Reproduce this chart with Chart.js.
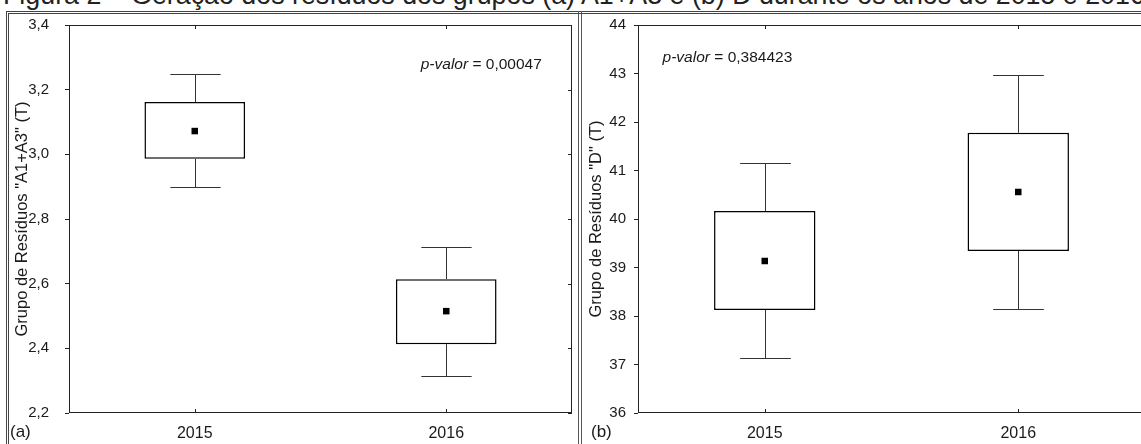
<!DOCTYPE html>
<html>
<head>
<meta charset="utf-8">
<script src="https://cdn.jsdelivr.net/npm/chart.js@4.4.1/dist/chart.umd.min.js"></script>
<style>
    html, body { margin: 0; padding: 0; background: #fff; width: 1141px; height: 444px; overflow: hidden; position: relative; font-family: "Liberation Sans", Arial, sans-serif; color: #1a1a1a; }
    #figTitle { position: absolute; left: 3px; top: -20px; font-size: 26.8px; line-height: 30px; white-space: nowrap; color: #222; }
    #frame { position: absolute; left: 6px; top: 11px; width: 1200px; height: 500px; border-top: 3px double #444; border-left: 3px double #444; }
    #sep { position: absolute; left: 578px; top: 11px; width: 0; height: 500px; border-left: 4px double #555; }
    .panel { position: absolute; top: 14px; width: 568px; height: 430px; }
    .tag { position: absolute; top: 422px; font-size: 17px; }
</style>
</head>
<body>
<div id="figTitle">Figura 2 – Geração dos resíduos dos grupos (a) A1+A3 e (b) D durante os anos de 2015 e 2016</div>
<div id="frame"></div>
<div id="sep"></div>
<div class="panel" style="left:9px"><canvas id="chartA" width="568" height="430"></canvas></div>
<div class="panel" style="left:582px"><canvas id="chartD" width="568" height="430"></canvas></div>
<div class="tag" style="left:10px">(a)</div>
<div class="tag" style="left:591px">(b)</div>

<script>
// Data
const years = [2015, 2016];

// (a) grupo A1+A3
const aMean = [3.072, 2.515];
const aBoxLow = [2.986, 2.413];
const aBoxHigh = [3.162, 2.614];
const aWhiskLow = [2.899, 2.314];
const aWhiskHigh = [3.248, 2.713];
const aYTicks = [2.2, 2.4, 2.6, 2.8, 3.0, 3.2, 3.4];
const aPValue = '0,00047';

// (b) grupo D
const dMean = [39.134, 40.557];
const dBoxLow = [38.124, 39.34];
const dBoxHigh = [40.165, 41.78];
const dWhiskLow = [37.134, 38.15];
const dWhiskHigh = [41.155, 42.97];
const dYTicks = [36, 37, 38, 39, 40, 41, 42, 43, 44];
const dPValue = '0,384423';

const FONT = '"Liberation Sans", Arial, sans-serif';
const INK = '#1a1a1a';

// whiskers, plot frame, inner ticks and p-valor text
const boxExtras = {
    id: 'boxExtras',
    afterDatasetsDraw(chart, args, opts) {
        const { ctx, chartArea: a, scales: { x, y } } = chart;
        ctx.save();
        ctx.strokeStyle = '#333';
        ctx.lineWidth = 1;

        // whiskers
        opts.years.forEach((yr, i) => {
            const cx = Math.round(x.getPixelForValue(yr)) + 0.5;
            const half = (x.getPixelForValue(yr + 0.1) - x.getPixelForValue(yr));
            [[opts.boxHigh[i], opts.whiskHigh[i]], [opts.boxLow[i], opts.whiskLow[i]]].forEach(([from, to]) => {
                const y0 = y.getPixelForValue(from);
                const y1 = Math.round(y.getPixelForValue(to)) + 0.5;
                ctx.beginPath();
                ctx.moveTo(cx, y0);
                ctx.lineTo(cx, y1);
                ctx.moveTo(cx - half, y1);
                ctx.lineTo(cx + half, y1);
                ctx.stroke();
            });
        });

        // frame
        ctx.strokeStyle = '#222';
        ctx.strokeRect(a.left + 0.5, a.top + 0.5, a.right - a.left - 1, a.bottom - a.top - 1);

        // inward ticks on right, top and bottom
        ctx.beginPath();
        y.ticks.forEach(t => {
            const py = Math.round(y.getPixelForValue(t.value)) + 0.5;
            ctx.moveTo(a.right, py);
            ctx.lineTo(a.right - 4, py);
        });
        x.ticks.forEach(t => {
            const px = Math.round(x.getPixelForValue(t.value)) + 0.5;
            ctx.moveTo(px, a.top);
            ctx.lineTo(px, a.top + 4);
            ctx.moveTo(px, a.bottom);
            ctx.lineTo(px, a.bottom - 4);
        });
        ctx.stroke();

        // p-valor
        const p = opts.pText;
        const px = x.getPixelForValue(p.x);
        const py = y.getPixelForValue(p.y);
        ctx.fillStyle = INK;
        ctx.textBaseline = 'alphabetic';
        ctx.font = 'italic 15.5px ' + FONT;
        const w1 = ctx.measureText('p-valor').width;
        ctx.font = '15.5px ' + FONT;
        const rest = ' = ' + p.value;
        const w2 = ctx.measureText(rest).width;
        const startX = p.align === 'right' ? px - w1 - w2 : px;
        ctx.font = 'italic 15.5px ' + FONT;
        ctx.fillText('p-valor', startX, py);
        ctx.font = '15.5px ' + FONT;
        ctx.fillText(rest, startX + w1, py);
        ctx.restore();
    }
};

function makeChart(id, s) {
    const ctx = document.getElementById(id).getContext('2d');
    return new Chart(ctx, {
        type: 'bar',
        data: {
            datasets: [{
                type: 'bar',
                data: years.map((yr, i) => ({ x: yr, y: [s.boxLow[i], s.boxHigh[i]] })),
                backgroundColor: '#fff',
                borderColor: '#000',
                borderWidth: 1.5,
                borderSkipped: false,
                categoryPercentage: 1,
                barPercentage: 0.4,
                order: 2
            }, {
                type: 'scatter',
                data: years.map((yr, i) => ({ x: yr, y: s.mean[i] })),
                pointStyle: 'rect',
                radius: 4.6,
                backgroundColor: '#000',
                borderColor: '#000',
                borderWidth: 0,
                order: 1
            }]
        },
        options: {
            responsive: false,
            animation: false,
            events: [],
            layout: { padding: { top: 11, right: 5, left: 0, bottom: 0 } },
            plugins: {
                legend: { display: false },
                tooltip: { enabled: false },
                boxExtras: {
                    years: years,
                    boxLow: s.boxLow, boxHigh: s.boxHigh,
                    whiskLow: s.whiskLow, whiskHigh: s.whiskHigh,
                    pText: s.pText
                }
            },
            scales: {
                x: {
                    type: 'linear',
                    offset: false,
                    min: 2014.5,
                    max: 2016.5,
                    afterBuildTicks: sc => { sc.ticks = years.map(v => ({ value: v })); },
                    afterFit: sc => { sc.height = 31; sc.paddingLeft = 0; sc.paddingRight = 0; },
                    grid: { display: false, drawTicks: false },
                    border: { display: false },
                    ticks: { color: INK, font: { family: FONT, size: 16 }, padding: 11, maxRotation: 0, callback: v => String(v) }
                },
                y: {
                    min: s.ticks[0],
                    max: s.ticks[s.ticks.length - 1],
                    afterBuildTicks: sc => { sc.ticks = s.ticks.map(v => ({ value: v })); },
                    afterFit: sc => { sc.width = s.axisWidth; sc.paddingTop = 0; sc.paddingBottom = 0; },
                    grid: { drawOnChartArea: false, tickLength: 4, color: '#222' },
                    border: { display: false },
                    ticks: { color: INK, font: { family: FONT, size: 15 }, padding: s.tickPad, callback: s.fmt },
                    title: { display: true, text: s.title, color: INK, font: { family: FONT, size: 16.5 }, padding: { top: s.titlePad, bottom: 0 } }
                }
            }
        },
        plugins: [boxExtras]
    });
}

makeChart('chartA', {
    mean: aMean, boxLow: aBoxLow, boxHigh: aBoxHigh, whiskLow: aWhiskLow, whiskHigh: aWhiskHigh,
    ticks: aYTicks,
    fmt: v => v.toFixed(1).replace('.', ','),
    title: 'Grupo de Resíduos "A1+A3" (T)',
    axisWidth: 60, tickPad: 16, titlePad: 4,
    pText: { x: 2016.38, y: 3.264, value: aPValue, align: 'right' }
});

makeChart('chartD', {
    mean: dMean, boxLow: dBoxLow, boxHigh: dBoxHigh, whiskLow: dWhiskLow, whiskHigh: dWhiskHigh,
    ticks: dYTicks,
    fmt: v => String(v),
    title: 'Grupo de Resíduos "D" (T)',
    axisWidth: 56, tickPad: 8, titlePad: 5,
    pText: { x: 2014.597, y: 43.24, value: dPValue, align: 'left' }
});
</script>
</body>
</html>
